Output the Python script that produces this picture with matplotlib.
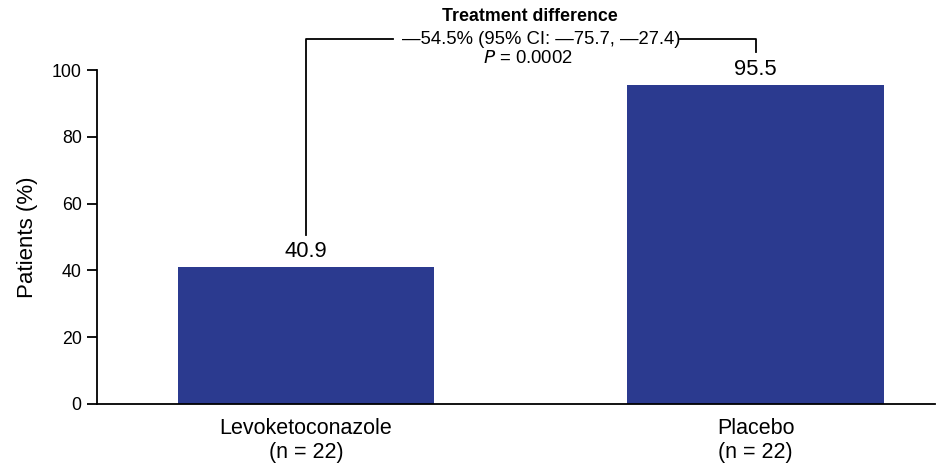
import matplotlib.pyplot as plt

plt.rcParams["font.family"] = ["Liberation Sans", "DejaVu Sans"]

groups = ["Levoketoconazole\n(n = 22)", "Placebo\n(n = 22)"]
patients_pct = [40.9, 95.5]
diff_title = "Treatment difference"
diff_text = "\u201454.5% (95% CI: \u201475.7, \u201427.4)"
p_text = "$\\it{P}$ = 0.0002"

bar_color = "#2b3a8f"

fig = plt.figure(figsize=(9.41, 4.67), dpi=100)
ax = fig.add_axes([0.103, 0.135, 0.891, 0.715])

x = list(range(len(groups)))
ax.bar(x, patients_pct, width=0.57, color=bar_color)

for xi, v in zip(x, patients_pct):
    ax.text(xi, v + 3.0, f"{v}", ha="center", va="baseline", fontsize=15.8)

ax.set_xlim(-0.465, 1.40)
ax.set_ylim(0, 100)
ax.set_yticks([0, 20, 40, 60, 80, 100])
ax.set_xticks(x)
ax.set_xticklabels(groups, fontsize=15.5)
ax.tick_params(axis="x", length=0, pad=10)
ax.tick_params(axis="y", length=7.5, width=1.3, labelsize=12.8, pad=3.5)
ax.set_ylabel("Patients (%)", fontsize=16, labelpad=10)

for side in ["top", "right"]:
    ax.spines[side].set_visible(False)
for side in ["left", "bottom"]:
    ax.spines[side].set_linewidth(1.3)

# bracket linking the two bars
bracket_y = 109.2
ax.plot([0, 0, 0.193], [50.5, bracket_y, bracket_y],
        color="black", lw=1.3, clip_on=False)
ax.plot([0.832, 1, 1], [bracket_y, bracket_y, 105.4],
        color="black", lw=1.3, clip_on=False)

ax.text(0.498, 115.9, diff_title, ha="center", va="center", fontsize=12.8,
        fontweight="bold", clip_on=False)
ax.text(0.524, bracket_y - 0.2, diff_text, ha="center", va="center",
        fontsize=13.3, clip_on=False)
ax.text(0.494, 103.5, p_text, ha="center", va="center", fontsize=13.3,
        clip_on=False)

plt.savefig("out.png", dpi=100)
